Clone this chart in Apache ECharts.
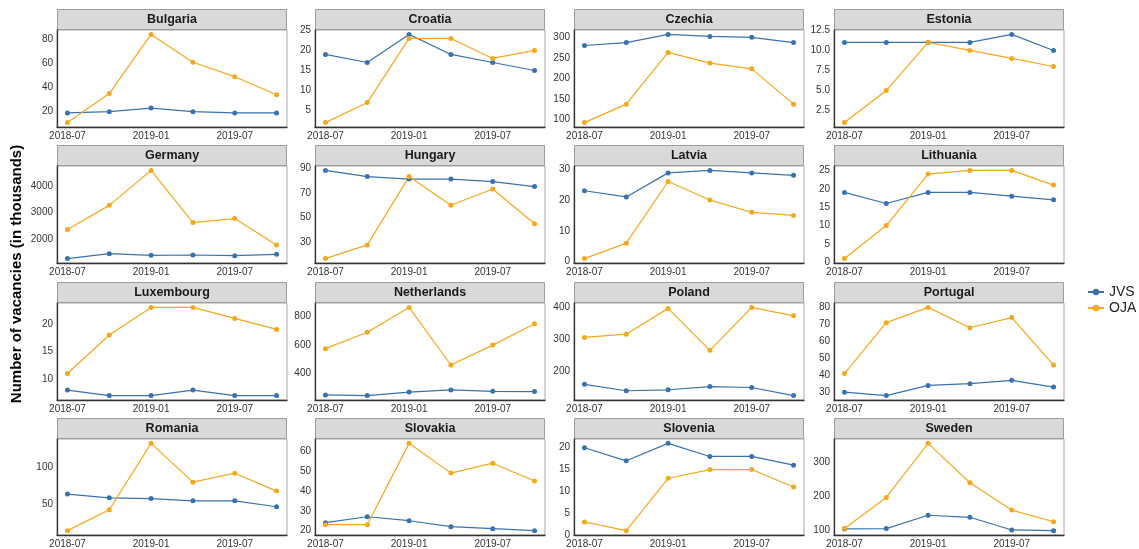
<!DOCTYPE html>
<html>
<head>
<meta charset="utf-8">
<script src="https://cdn.jsdelivr.net/npm/echarts@6/dist/echarts.min.js"></script>
<style>
  html, body { margin: 0; padding: 0; background: #fff; }
  #main { width: 1139px; height: 549px; }
</style>
</head>
<body>
<div id="main"></div>
<script>
// quarters, as months after 2018-07
const periods = ['2018-07', '2018-10', '2019-01', '2019-04', '2019-07', '2019-10'];
const periodMonths = [0, 3, 6, 9, 12, 15];
const xTickMonths = [0, 6, 12];
const xTickLabels = ['2018-07', '2019-01', '2019-07'];

const countries = [
  'Bulgaria', 'Croatia', 'Czechia', 'Estonia',
  'Germany', 'Hungary', 'Latvia', 'Lithuania',
  'Luxembourg', 'Netherlands', 'Poland', 'Portugal',
  'Romania', 'Slovakia', 'Slovenia', 'Sweden'
];

// JVS, one row per country (same order as countries)
const jvsValues = [
  [19, 20, 23, 20, 19, 19],
  [19, 17, 24, 19, 17, 15],
  [281, 288, 308, 303, 301, 288],
  [11, 11, 11, 11, 12, 10],
  [1260, 1445, 1385, 1395, 1370, 1420],
  [88, 83, 81, 81, 79, 75],
  [23, 21, 28.8, 29.6, 28.8, 28],
  [19, 16, 19, 19, 18, 17],
  [8, 7, 7, 8, 7, 7],
  [250, 245, 270, 285, 275, 273],
  [160, 140, 143, 153, 150, 125],
  [30, 28, 34, 35, 37, 33],
  [64, 59, 58, 55, 55, 47],
  [24, 27, 25, 22, 21, 20],
  [20, 17, 21, 18, 18, 16],
  [105, 106, 145, 139, 102, 100]
];

// OJA, one row per country
const ojaValues = [
  [11, 35, 84, 61, 49, 34],
  [2, 7, 23, 23, 18, 20],
  [93, 138, 264, 238, 224, 138],
  [1, 5, 11, 10, 9, 8],
  [2360, 3270, 4590, 2620, 2770, 1770],
  [17, 28, 83, 60, 73, 45],
  [1, 6, 26, 20, 16, 15],
  [1, 10, 24, 25, 25, 21],
  [11, 18, 23, 23, 21, 19],
  [575, 690, 865, 460, 600, 750],
  [305, 315, 395, 265, 398, 372],
  [41, 71, 80, 68, 74, 46],
  [15, 43, 132, 80, 92, 68],
  [23, 23, 64, 49, 54, 45],
  [3, 1, 13, 15, 15, 11],
  [106, 197, 355, 240, 160, 126]
];

// y tick labels per panel
const yTicks = [
  [20, 40, 60, 80],
  [5, 10, 15, 20, 25],
  [100, 150, 200, 250, 300],
  [2.5, 5, 7.5, 10, 12.5],
  [2000, 3000, 4000],
  [30, 50, 70, 90],
  [0, 10, 20, 30],
  [0, 5, 10, 15, 20, 25],
  [10, 15, 20],
  [400, 600, 800],
  [200, 300, 400],
  [30, 40, 50, 60, 70, 80],
  [50, 100],
  [20, 30, 40, 50, 60],
  [0, 5, 10, 15, 20],
  [100, 200, 300]
];

const jvsColor = '#3a72ae';
const ojaColor = '#f4a81d';
const font = '"Liberation Sans", Arial, sans-serif';

// panel layout
const colLeft = [57, 315, 574, 834];
const rowTop = [30, 166, 303, 439];
const panelW = 230;
const panelH = 97;
const stripH = 21;

const grids = [], xAxes = [], yAxes = [], series = [], graphics = [];

countries.forEach(function (name, i) {
  const r = Math.floor(i / 4), c = i % 4;
  const all = jvsValues[i].concat(ojaValues[i]);
  const lo = Math.min.apply(null, all), hi = Math.max.apply(null, all);
  const pad = (hi - lo) * 0.05;
  const decimals = yTicks[i].some(function (v) { return v % 1 !== 0; });

  grids.push({
    left: colLeft[c], top: rowTop[r], width: panelW, height: panelH,
    show: true, borderColor: '#a8a8a8', borderWidth: 1, backgroundColor: '#fff'
  });

  xAxes.push({
    gridIndex: i, type: 'value', min: -0.75, max: 15.75,
    axisLine: { show: true, onZero: false, lineStyle: { color: '#333', width: 1.3 } },
    axisTick: { show: false },
    splitLine: { show: false },
    axisLabel: {
      customValues: xTickMonths,
      formatter: function (v) { return xTickLabels[xTickMonths.indexOf(v)]; },
      fontSize: 10, color: '#333', margin: 4, fontFamily: font
    }
  });

  yAxes.push({
    gridIndex: i, type: 'value', min: lo - pad, max: hi + pad,
    axisLine: { show: true, onZero: false, lineStyle: { color: '#333', width: 1.3 } },
    axisTick: { show: false },
    splitLine: { show: false },
    axisLabel: {
      customValues: yTicks[i],
      formatter: function (v) { return decimals ? v.toFixed(1) : String(v); },
      fontSize: 10, color: '#333', margin: 4, fontFamily: font
    }
  });

  [['JVS', jvsValues[i], jvsColor], ['OJA', ojaValues[i], ojaColor]].forEach(function (s) {
    series.push({
      name: s[0], type: 'line', xAxisIndex: i, yAxisIndex: i,
      data: periodMonths.map(function (m, k) { return [m, s[1][k]]; }),
      symbol: 'circle', symbolSize: 5, showSymbol: true,
      itemStyle: { color: s[2] },
      lineStyle: { color: s[2], width: 1.2 },
      emphasis: { disabled: true }
    });
  });

  graphics.push({
    type: 'rect',
    shape: { x: colLeft[c] + 0.5, y: rowTop[r] - stripH + 0.5, width: panelW - 1, height: stripH - 1 },
    style: { fill: '#d9d9d9', stroke: '#9c9c9c', lineWidth: 1 }
  });
  graphics.push({
    type: 'text',
    x: colLeft[c] + panelW / 2, y: rowTop[r] - stripH / 2 + 0.5,
    style: {
      text: name, fill: '#1a1a1a', font: 'bold 12.5px ' + font,
      align: 'center', verticalAlign: 'middle',
      textAlign: 'center', textVerticalAlign: 'middle'
    }
  });
});

graphics.push({
  type: 'text', x: 17, y: 274, rotation: Math.PI / 2,
  style: {
    text: 'Number of vacancies (in thousands)', fill: '#000', font: 'bold 15px ' + font,
    align: 'center', verticalAlign: 'middle',
    textAlign: 'center', textVerticalAlign: 'middle'
  }
});

const chart = echarts.init(document.getElementById('main'));
chart.setOption({
  animation: false,
  textStyle: { fontFamily: font },
  legend: {
    data: ['JVS', 'OJA'], orient: 'vertical', left: 1082, top: 280,
    itemWidth: 16, itemHeight: 8, itemGap: 2,
    textStyle: { fontSize: 14, color: '#222', fontFamily: font }
  },
  grid: grids,
  xAxis: xAxes,
  yAxis: yAxes,
  series: series,
  graphic: graphics
});
</script>
</body>
</html>
